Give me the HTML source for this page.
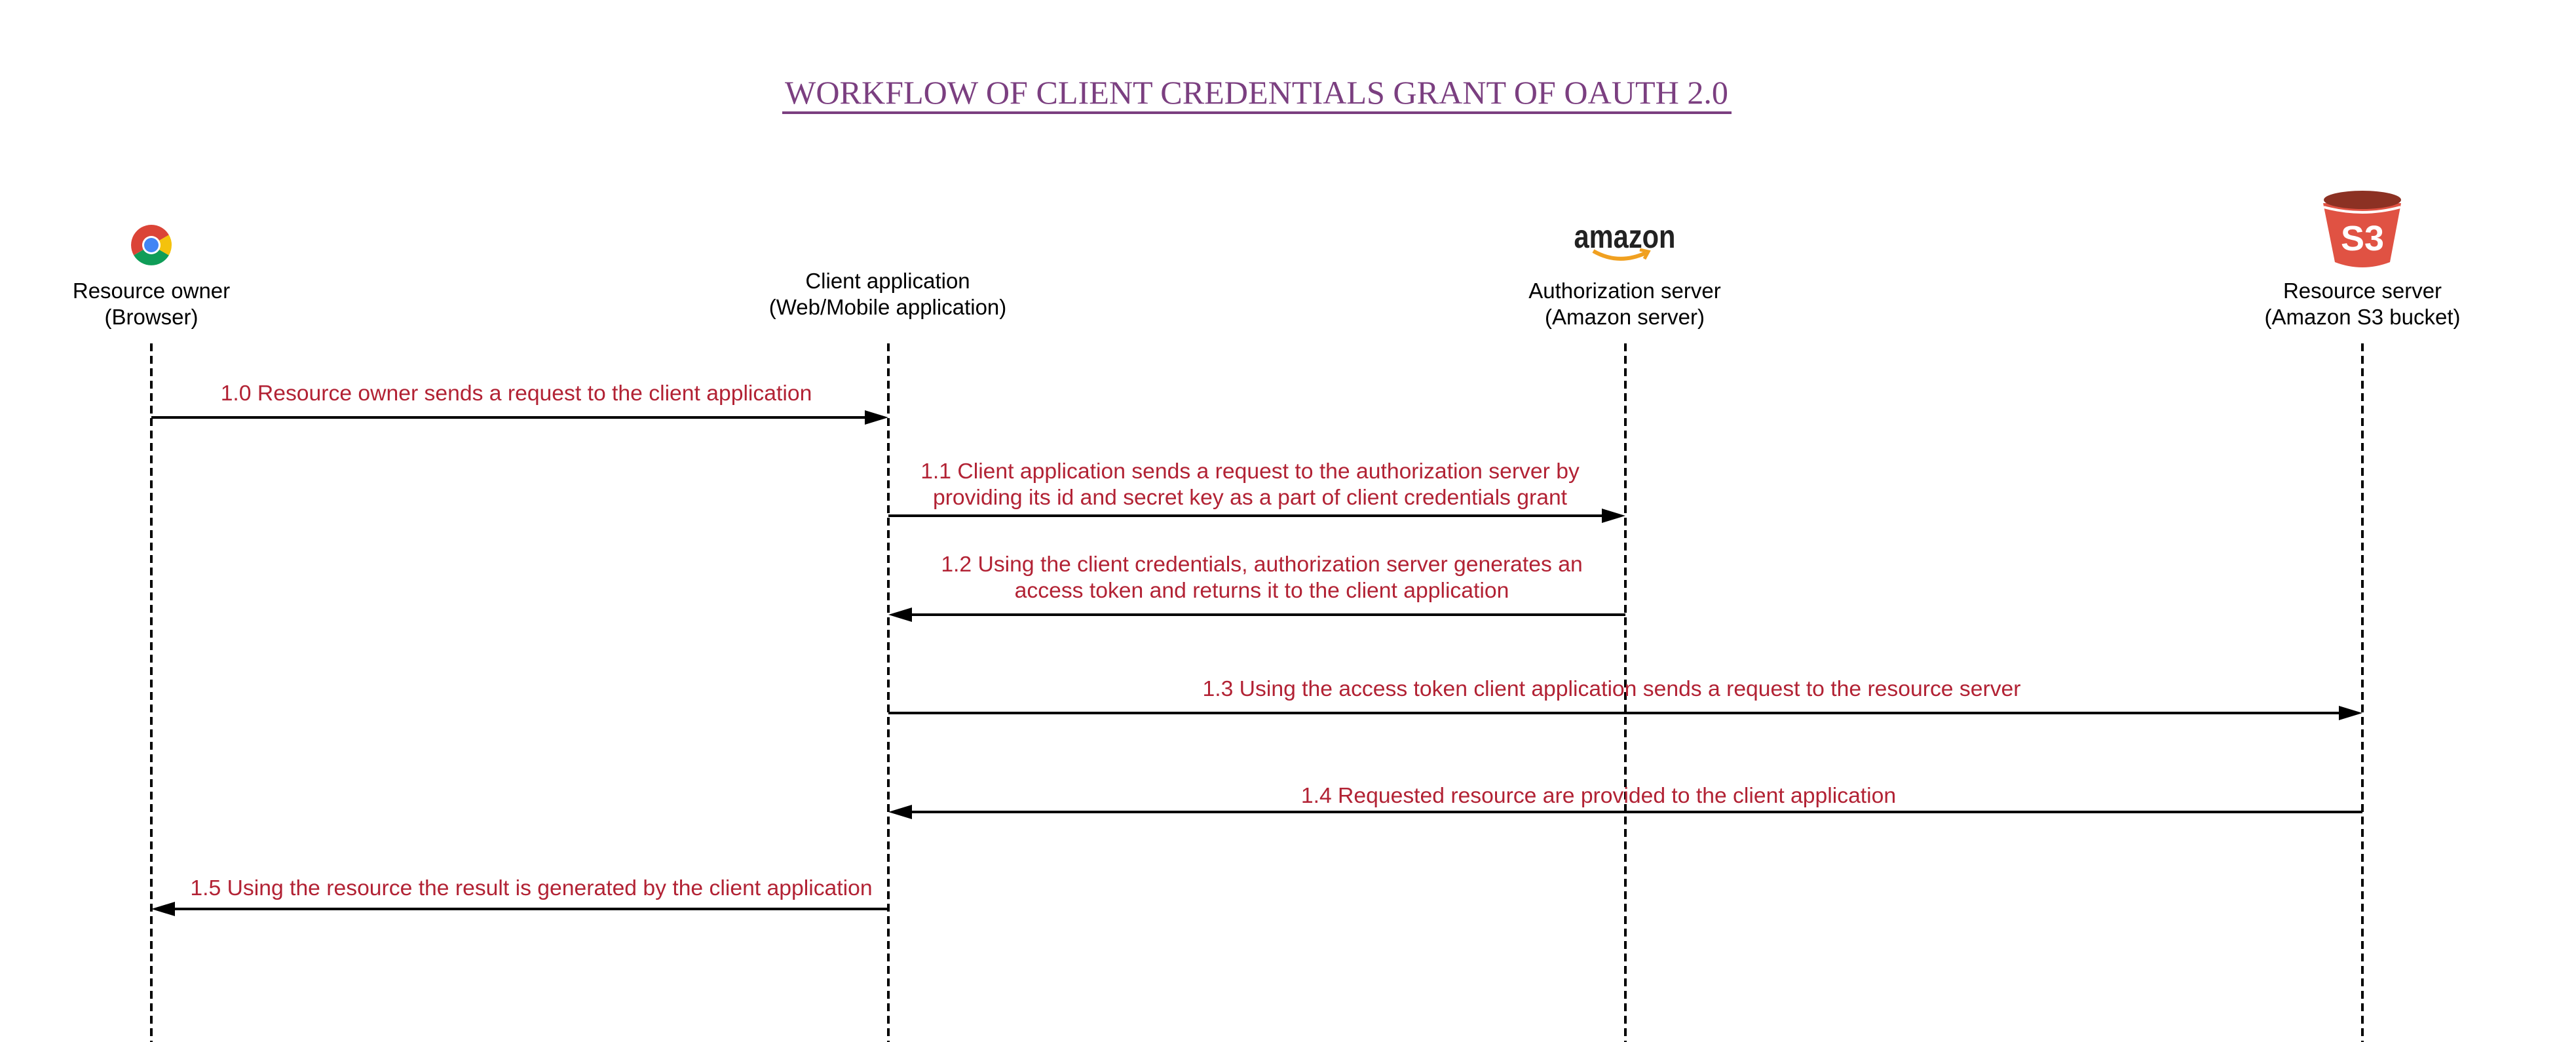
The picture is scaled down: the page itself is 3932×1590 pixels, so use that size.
<!DOCTYPE html>
<html><head><meta charset="utf-8"><style>html,body{margin:0;padding:0;background:#fff}svg{display:block}</style></head>
<body>
<svg width="3932" height="1590" viewBox="0 0 3932 1590" xmlns="http://www.w3.org/2000/svg" font-family="Liberation Sans, sans-serif">
<text x="1918" y="158" text-anchor="middle" font-family="Liberation Serif, serif" font-size="50" fill="#7b3f80" textLength="1440" lengthAdjust="spacingAndGlyphs">WORKFLOW OF CLIENT CREDENTIALS GRANT OF OAUTH 2.0</text>
<rect x="1194" y="170" width="1449" height="4" fill="#7b3f80"/>
<!-- chrome -->
<g transform="translate(231,374)">
<path d="M0,0 L0,-31 A31,31 0 0 1 26.8,-15.5 Z" fill="#db4437"/>
<path d="M0,0 L0,-31 A31,31 0 0 0 -26.8,15.5 Z" fill="#db4437"/>
<path d="M0,0 L-26.8,15.5 A31,31 0 0 0 26.8,15.5 Z" fill="#0f9d58"/>
<path d="M0,0 L26.8,15.5 A31,31 0 0 0 26.8,-15.5 Z" fill="#f4c20d"/>
<path d="M0,0 L26.8,-15.5 A31,31 0 0 1 31,0 L26.8,15.5 Z" fill="#f4c20d"/>
<circle r="14" fill="#fff"/><circle r="11" fill="#4285f4"/>
</g>
<!-- amazon -->
<text x="2480" y="378" text-anchor="middle" font-size="50" font-weight="bold" fill="#222" textLength="155" lengthAdjust="spacingAndGlyphs">amazon</text>
<path d="M2432,383 Q2470,405 2512,386" stroke="#f0a020" stroke-width="6" fill="none"/>
<path d="M2503,381 L2516,384 L2510,395" stroke="#f0a020" stroke-width="5" fill="none"/>
<!-- s3 -->
<path d="M3546,310 L3665,310 L3648,400 Q3606,416 3564,400 Z" fill="#e05243"/>
<ellipse cx="3606" cy="305" rx="59" ry="14" fill="#8c3123"/>
<path d="M3547,316 Q3606,332 3664,316" stroke="#fff" stroke-width="4" fill="none"/>
<text x="3606" y="382" text-anchor="middle" font-size="54" font-weight="bold" fill="#fff">S3</text>
<g font-size="33" text-anchor="middle" fill="#000">
<text x="231" y="455">Resource owner</text><text x="231" y="495">(Browser)</text>
<text x="1355" y="440">Client application</text><text x="1355" y="480">(Web/Mobile application)</text>
<text x="2480" y="455">Authorization server</text><text x="2480" y="495">(Amazon server)</text>
<text x="3606" y="455">Resource server</text><text x="3606" y="495">(Amazon S3 bucket)</text>
</g>
<g stroke="#000" stroke-width="4" stroke-dasharray="12,7">
<line x1="231" y1="524" x2="231" y2="1590"/><line x1="1356" y1="524" x2="1356" y2="1590"/>
<line x1="2481" y1="524" x2="2481" y2="1590"/><line x1="3606" y1="524" x2="3606" y2="1590"/>
</g>
<g stroke="#000" stroke-width="4">
<line x1="231" y1="637" x2="1322" y2="637"/>
<line x1="1356" y1="787" x2="2447" y2="787"/>
<line x1="1390" y1="938" x2="2481" y2="938"/>
<line x1="1356" y1="1088" x2="3572" y2="1088"/>
<line x1="1390" y1="1239" x2="3606" y2="1239"/>
<line x1="265" y1="1387" x2="1356" y2="1387"/>
</g>
<g fill="#000">
<path d="M1356,637 L1320,626 L1320,648Z"/>
<path d="M2481,787 L2445,776 L2445,798Z"/>
<path d="M1356,938 L1392,927 L1392,949Z"/>
<path d="M3606,1088 L3570,1077 L3570,1099Z"/>
<path d="M1356,1239 L1392,1228 L1392,1250Z"/>
<path d="M231,1387 L267,1376 L267,1398Z"/>
</g>
<g font-size="33.7" text-anchor="middle" fill="#b22234">
<text x="788" y="611">1.0 Resource owner sends a request to the client application</text>
<text x="1908" y="730">1.1 Client application sends a request to the authorization server by</text>
<text x="1908" y="770">providing its id and secret key as a part of client credentials grant</text>
<text x="1926" y="872">1.2 Using the client credentials, authorization server generates an</text>
<text x="1926" y="912">access token and returns it to the client application</text>
<text x="2460" y="1062">1.3 Using the access token client application sends a request to the resource server</text>
<text x="2440" y="1225">1.4 Requested resource are provided to the client application</text>
<text x="811" y="1366">1.5 Using the resource the result is generated by the client application</text>
</g>
</svg>
</body></html>
